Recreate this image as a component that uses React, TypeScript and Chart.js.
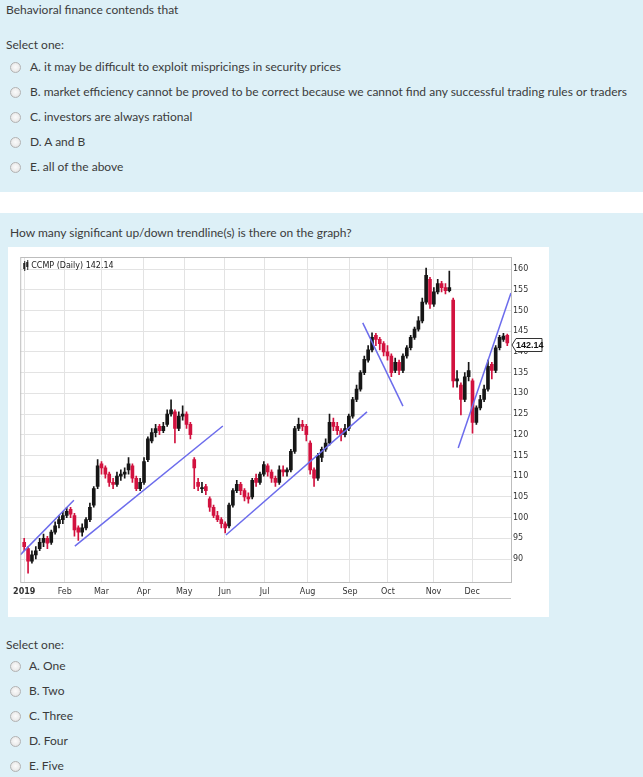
import React, { useEffect, useRef } from "react";
import { Chart, registerables } from "chart.js";
Chart.register(...registerables);

// ---- data (one candle = two trading days of 2019) ----
const opens = [94,92.5,89.5,91,92.5,94,95,94,96.5,98.5, 99.5,100.5,102,100.5,97.5,96.5,97.5,99.5,103,107.5, 113,112,110.5,108.5,108,110,110.5,111.5,112.5,109.5, 107,108.5,114,118.5,120.5,122,121,122.5,125,125.5, 121.5,124.5,125,122.5,114,108.5,107,107.5,104.5,102.5, 100.5,99.5,98.5,98,103,106.5,108,106.5,105,105, 109.5,108.5,110.5,112.5,111,109.5,108.5,111.5,111,111.5, 116,121.5,122.5,122,118,111.5,109.5,114.5,116.5,118, 123,122,121,120,121.5,124.5,128.5,131,135,138, 140.5,144,143,142,140,139,135.5,137.5,135.5,139, 141,143.5,145.5,147.5,152,157.5,151.5,154.5,156.5,155.5, 154.8,152.5,133,132,128.5,134,133,123,126.5,128.5, 131,137,135.5,141,143,144];
const closes = [93,89.5,91,92,94,95,93.8,96.5,98,99.5, 100.5,101.5,100.8,97,96.5,97.5,99.5,102.5,107,112.5, 112,110.5,108.5,108,110,110.5,111,113,109.5,107, 108.5,113.5,119,120.5,121.5,121,122,125,126,121.5, 124.5,125,122.5,120,112,107.5,107.2,106.5,102.5,100.5, 99.5,98.5,97.5,103,106.5,108,106.5,105,104.5,109, 108.5,110.5,112.8,111,109.5,108.5,111.5,111,111.5,116, 121.5,122.5,122,120,111.5,109.5,115,116.5,118,123, 122,121,120,121.5,124.5,128.5,131,135,138.2,140.5, 143.5,143,142,140,139,135,137.5,135.5,139,141, 143.5,145.5,147.5,152,158.5,151.5,154.5,156.5,155.5,154.8, 155.5,133,133.5,128.5,134,135.5,123,126.5,128.5,131, 136.5,135.5,141,143.5,143.8,142.14];
const highs = [95,93,92,93,95,96,95.5,97,99,100.5, 101.5,102.5,102.5,101,98,98.5,100,103.5,107.5,114, 113.5,112.5,111,109.5,111,111.5,112,114.5,113,110, 109.5,114.5,119.5,121.5,122.5,122.5,123,126,128.4,126, 125.5,127,125.5,123,114.5,109.5,108.5,108,105,103, 101.5,100,99,103.5,107,109,108.5,107,106,109.5, 110.5,111,113.5,113,111.5,110,112.5,112.5,112,116.5, 122,124,123.5,122.5,118.5,112,115.5,117,119,125, 124,123,121.5,122.5,125,129,132,135.5,139,141.5, 144.6,144.5,143.5,142.5,141.5,139.5,138.5,138,139.5,141.5, 144,146,148.5,153,160.2,158,155.5,157.5,157,156.5, 159.5,153,135.5,132.5,135,137.5,133.5,127,129.5,132, 138,137.5,141.5,144,144.5,144.3];
const lows = [92,86.6,89,90,92,93,92.5,93.5,96,97.5, 98.5,100,100,95.5,94.5,95.5,97,99,102.5,107, 110.5,109.5,107.5,107,107.5,109,109.5,110.5,108.5,106.5, 106.5,108,113.5,118,119.5,120,120.5,122,124.5,118, 121,123.5,121.5,119,107,106.5,106,105.5,101.5,100, 99,97.5,96.3,97.5,102.5,106,105.5,104,103.5,104.5, 107.5,108,110,110,108.5,107.5,108,110,110,111, 115.5,121,121,118.5,110.5,107.5,109,113.5,116,117.5, 121,120,118.5,119.5,121,124,128,130.5,134.5,137.5, 140,141.5,140.5,139,138,134,135,134.5,135,138.5, 140.5,143,145,147,151.5,150.5,151,154,154.5,154, 154.5,131.5,131.5,124.8,128,133,120.4,122.5,126,128, 130.5,133.5,135,140.5,142.5,141.5];

const monthLabels = ["2019","Feb","Mar","Apr","May","Jun","Jul","Aug","Sep","Oct","Nov","Dec"];
const monthPositions = [0,10.5,20,30.9,41.4,51.9,62.2,73.3,84.3,94.1,105.9,115.9];
const yTickValues = [90,95,100,105,110,115,120,125,130,135,140,145,150,155,160];
const lastPrice = 142.14;

const trendlines = [
  [{ x: -1.03, y: 91 }, { x: 12.85, y: 104.2 }],
  [{ x: 13.1, y: 93.1 }, { x: 51.4, y: 122.1 }],
  [{ x: 52.2, y: 95.8 }, { x: 88.7, y: 125.5 }],
  [{ x: 87.6, y: 147 }, { x: 98, y: 126.9 }],
  [{ x: 112.3, y: 116.8 }, { x: 125.95, y: 154.2 }],
];

const q1Options = [
  "A. it may be difficult to exploit mispricings in security prices",
  "B. market efficiency cannot be proved to be correct because we cannot find any successful trading rules or traders",
  "C. investors are always rational",
  "D. A and B",
  "E. all of the above",
];
const q2Options = ["A. One", "B. Two", "C. Three", "D. Four", "E. Five"];

const BLUE = "#ddf0f7";
const TEXT = "#3b3b3b";
const FONT = "Lato, 'Open Sans', sans-serif";

function Line({ top, left, text, size = 12 }: { top: number; left: number; text: string; size?: number }) {
  return (
    <div style={{ position: "absolute", top: top - 9, left, height: 18, lineHeight: "18px", fontSize: size, fontFamily: FONT, color: TEXT, whiteSpace: "nowrap" }}>
      {text}
    </div>
  );
}

function Radio({ cy }: { cy: number }) {
  return (
    <div style={{ position: "absolute", left: 10, top: cy - 5, width: 9, height: 9, borderRadius: "50%", border: "1px solid #b3b3b3", background: "radial-gradient(circle at 50% 45%, #fbfbfb 0%, #ebebeb 60%, #d0d0d0 100%)" }} />
  );
}

const overlay = {
  id: "overlay",
  afterDraw(chart: any) {
    const { ctx, chartArea: a, scales } = chart;
    ctx.save();
    ctx.strokeStyle = "#bdbdbd";
    ctx.lineWidth = 1;
    ctx.strokeRect(a.left + 0.5, a.top + 0.5, a.right - a.left, a.bottom - a.top);
    ctx.beginPath();
    ctx.moveTo(a.left, a.bottom + 16.5);
    ctx.lineTo(a.right, a.bottom + 16.5);
    ctx.strokeStyle = "#c4c4c4";
    ctx.stroke();
    // title icon
    ctx.fillStyle = "#222";
    ctx.fillRect(a.left + 3, a.top + 6, 2, 6);
    ctx.fillRect(a.left + 6, a.top + 5, 2, 5);
    ctx.fillRect(a.left + 4, a.top + 4, 1, 10);
    ctx.fillRect(a.left + 7, a.top + 3, 1, 10);
    ctx.font = "8px 'DejaVu Sans'";
    ctx.fillStyle = "#1a1a1a";
    ctx.textBaseline = "middle";
    ctx.fillText("CCMP (Daily) " + lastPrice.toFixed(2), a.left + 11, a.top + 9);
    // price label
    const y = scales.y.getPixelForValue(lastPrice) + 2;
    const x0 = a.right + 1;
    ctx.beginPath();
    ctx.moveTo(x0, y);
    ctx.lineTo(x0 + 4, y - 6.5);
    ctx.lineTo(x0 + 30, y - 6.5);
    ctx.lineTo(x0 + 30, y + 6.5);
    ctx.lineTo(x0 + 4, y + 6.5);
    ctx.closePath();
    ctx.fillStyle = "#fff";
    ctx.fill();
    ctx.strokeStyle = "#333";
    ctx.stroke();
    ctx.fillStyle = "#111";
    ctx.font = "bold 9px 'Liberation Sans'";
    ctx.fillText(lastPrice.toFixed(2), x0 + 4, y + 0.5);
    ctx.restore();
  },
};

export default function App() {
  const ref = useRef<HTMLCanvasElement>(null);
  useEffect(() => {
    const canvas = ref.current;
    if (!canvas) return;
    const colors = closes.map((c, k) => (c >= opens[k] ? "#161616" : "#d2123f"));
    const chart = new Chart(canvas, {
      type: "bar",
      data: {
        datasets: [
          ...trendlines.map((t) => ({
            type: "line" as const,
            data: t,
            borderColor: "#6c6cec",
            borderWidth: 1.5,
            pointRadius: 0,
            tension: 0,
            order: 0,
          })),
          {
            type: "bar" as const,
            data: opens.map((o, k) => ({ x: k, y: [o, closes[k]] })),
            backgroundColor: colors,
            barThickness: 3,
            grouped: false,
            borderSkipped: false,
            minBarLength: 1,
            order: 1,
          },
          {
            type: "bar" as const,
            data: highs.map((h, k) => ({ x: k, y: [lows[k], h] })),
            backgroundColor: colors,
            barThickness: 1,
            grouped: false,
            borderSkipped: false,
            order: 2,
          },
        ] as any,
      },
      options: {
        animation: false,
        responsive: false,
        maintainAspectRatio: false,
        layout: { padding: { left: 9, top: 10, right: 0, bottom: 0 }, autoPadding: false },
        plugins: { legend: { display: false }, tooltip: { enabled: false } },
        scales: {
          x: {
            type: "linear",
            offset: false,
            min: -1.03,
            max: 125.96,
            afterBuildTicks: (s: any) => {
              s.ticks = monthPositions.map((v) => ({ value: v }));
            },
            afterFit: (s: any) => {
              s.height = 35;
            },
            grid: { color: "#e3e3e3", drawTicks: false, offset: false },
            border: { display: false },
            ticks: {
              autoSkip: false,
              maxRotation: 0,
              padding: 5,
              color: "#333",
              font: (c: any) => ({ family: "DejaVu Sans", size: 8, weight: c.index === 0 ? "bold" : "normal" }),
              callback: (_v: any, i: number) => monthLabels[i],
            },
          },
          y: {
            position: "right",
            min: 84.45,
            max: 162.9,
            afterBuildTicks: (s: any) => {
              s.ticks = yTickValues.map((v) => ({ value: v }));
            },
            afterFit: (s: any) => {
              s.width = 38;
            },
            grid: { color: "#e3e3e3", drawTicks: false },
            border: { display: false },
            ticks: {
              padding: 2,
              color: "#333",
              font: { family: "DejaVu Sans", size: 8 },
              callback: (v: any) => String(v),
            },
          },
        },
      } as any,
      plugins: [overlay],
    });
    return () => chart.destroy();
  }, []);

  return (
    <div style={{ position: "absolute", left: 0, top: 0, width: 643, height: 777, overflow: "hidden", background: "#fff" }}>
      <div style={{ position: "absolute", left: 0, top: 0, width: 643, height: 192, background: BLUE }} />
      <div style={{ position: "absolute", left: 0, top: 213, width: 643, height: 564, background: BLUE }} />
      <Line top={10} left={6} text="Behavioral finance contends that" />
      <Line top={45} left={6} text="Select one:" />
      {q1Options.map((t, i) => (
        <React.Fragment key={t}>
          <Radio cy={67 + i * 25} />
          <Line top={67 + i * 25} left={30} text={t} />
        </React.Fragment>
      ))}
      <Line top={233} left={10} text="How many significant up/down trendline(s) is there on the graph?" />
      <div style={{ position: "absolute", left: 8, top: 247, width: 541, height: 370, background: "#fff" }}>
        <canvas ref={ref} width={541} height={370} style={{ display: "block", width: 541, height: 370 }} />
      </div>
      <Line top={645} left={6} text="Select one:" />
      {q2Options.map((t, i) => (
        <React.Fragment key={t}>
          <Radio cy={666 + i * 25} />
          <Line top={666 + i * 25} left={29} text={t} />
        </React.Fragment>
      ))}
    </div>
  );
}
